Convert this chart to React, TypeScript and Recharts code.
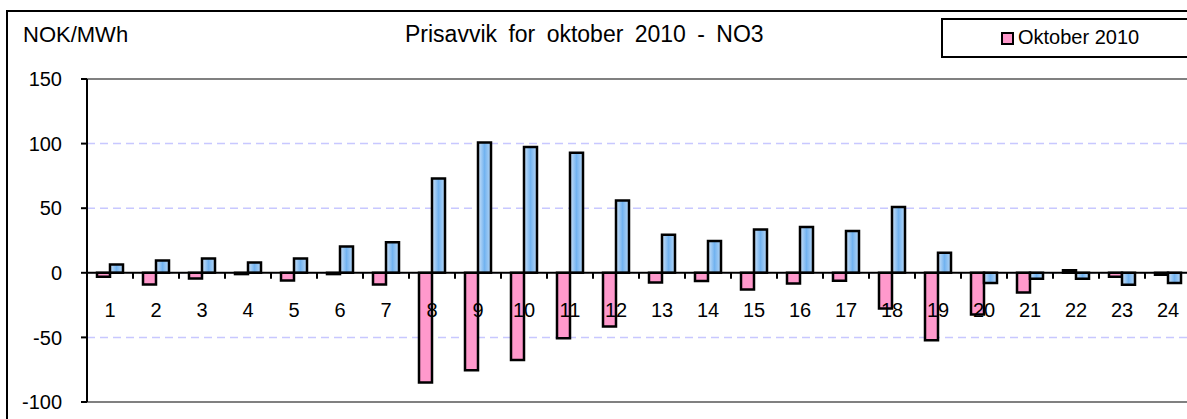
import React from "react";
import { BarChart, Bar, XAxis, YAxis, CartesianGrid, ReferenceLine } from "recharts";

const hours = ["1", "2", "3", "4", "5", "6", "7", "8", "9", "10", "11", "12", "13", "14", "15", "16", "17", "18", "19", "20", "21", "22", "23", "24"];
const oktober2010 = [-3, -9, -4.5, -1, -6, -1, -9, -85, -75.5, -67.5, -50.7, -41.6, -7.5, -6.4, -12.9, -8.2, -6.2, -27.7, -52.2, -32.3, -15.3, 2, -3, -1.5];
const avvikB = [6.4, 9.5, 11, 8, 11, 20.4, 23.7, 72.9, 100.8, 97.4, 93, 56, 29.5, 24.6, 33.6, 35.4, 32.3, 51, 15.5, -7.8, -4.7, -4.7, -9.3, -7.8];
const yTicks = [150, 100, 50, 0, -50, -100];

const data = hours.map((h, i) => ({ hour: h, okt: oktober2010[i], b: avvikB[i] }));

const FONT = "'Liberation Sans', Arial, sans-serif";
const CHART_W = 1200;
const CHART_H = 419;
const M_TOP = 79;
const M_RIGHT = 9;
const Y_W = 87;
const X_H = 17;
const PLOT_H = CHART_H - M_TOP - X_H;
const Y_MIN = -100;
const Y_MAX = 150;
const zeroY = M_TOP + (PLOT_H * Y_MAX) / (Y_MAX - Y_MIN);
const halfBand = (CHART_W - M_RIGHT - Y_W) / hours.length / 2;

// x labels sit under the zero line, not under the plot
const HourTick = (props: any) => {
  const { x, payload } = props;
  return (
    <g>
      <line x1={x + halfBand} x2={x + halfBand} y1={zeroY} y2={zeroY + 6} stroke="#000" strokeWidth={2} />
      <text x={x} y={zeroY + 44} textAnchor="middle" fill="#000" fontSize={20} fontFamily={FONT}>
        {payload.value}
      </text>
    </g>
  );
};

export default function App() {
  return (
    <div style={{ position: "absolute", left: 0, top: 0, width: 1187, height: 419, overflow: "hidden", background: "#fff", fontFamily: FONT }}>
      <div style={{ position: "absolute", left: 6, top: 10, width: 1220, height: 440, border: "2px solid #000" }} />
      <div style={{ position: "absolute", left: 23, top: 22, fontSize: 22, color: "#000", lineHeight: "26px" }}>NOK/MWh</div>
      <div style={{ position: "absolute", left: 405, top: 20, fontSize: 23, color: "#000", lineHeight: "28px", wordSpacing: 5, whiteSpace: "nowrap" }}>
        Prisavvik for oktober 2010 - NO3
      </div>
      <div style={{ position: "absolute", left: 941, top: 18, width: 260, height: 36, border: "2px solid #000", background: "#fff" }}>
        <div style={{ position: "absolute", left: 58, top: 12, width: 9, height: 9, background: "#ff99cc", border: "2px solid #000" }} />
        <div style={{ position: "absolute", left: 75, top: 4, fontSize: 20, lineHeight: "26px", whiteSpace: "nowrap" }}>Oktober 2010</div>
      </div>
      <div style={{ position: "absolute", left: 0, top: 0 }}>
        <BarChart
          width={CHART_W}
          height={CHART_H}
          data={data}
          margin={{ top: M_TOP, right: M_RIGHT, left: 0, bottom: 0 }}
          barGap={0}
        >
          <defs>
            <linearGradient id="blueFill" x1="0" y1="0" x2="1" y2="0">
              <stop offset="0%" stopColor="#cfe3f8" />
              <stop offset="50%" stopColor="#72b3f0" />
              <stop offset="100%" stopColor="#b8d7f6" />
            </linearGradient>
          </defs>
          <CartesianGrid vertical={false} stroke="#c8c8ff" strokeDasharray="8 5" strokeWidth={1.5} />
          <YAxis
            width={Y_W}
            domain={[Y_MIN, Y_MAX]}
            ticks={yTicks}
            interval={0}
            tick={{ fontSize: 20, fill: "#000", fontFamily: FONT }}
            tickSize={6}
            tickMargin={19}
            axisLine={{ stroke: "#000", strokeWidth: 2 }}
            tickLine={{ stroke: "#000", strokeWidth: 2 }}
          />
          <ReferenceLine y={150} stroke="#808080" strokeWidth={2} />
          <ReferenceLine y={-100} stroke="#808080" strokeWidth={2} />
          <Bar dataKey="okt" name="Oktober 2010" fill="#ff99cc" stroke="#000" strokeWidth={2.5} barSize={13} isAnimationActive={false} />
          <Bar dataKey="b" fill="url(#blueFill)" stroke="#000" strokeWidth={2.5} barSize={13} legendType="none" isAnimationActive={false} />
          <ReferenceLine y={0} stroke="#000" strokeWidth={2} />
          <XAxis dataKey="hour" height={X_H} axisLine={false} tickLine={false} interval={0} tick={<HourTick />} />
        </BarChart>
      </div>
    </div>
  );
}
